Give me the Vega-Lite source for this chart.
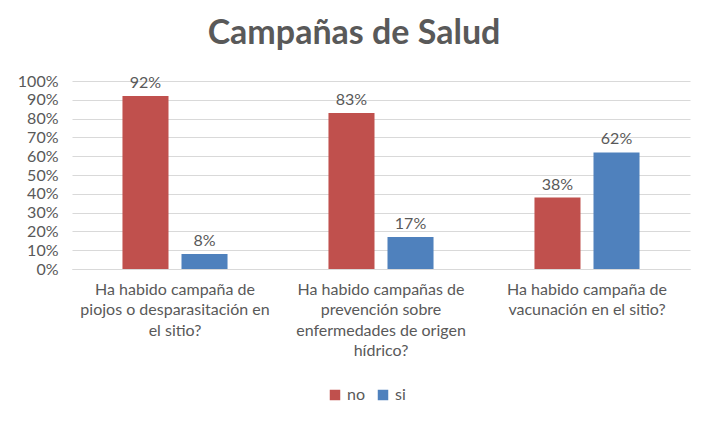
{
  "$schema": "https://vega.github.io/schema/vega-lite/v6.json",
  "width": 618,
  "height": 188,
  "autosize": {"type": "none"},
  "padding": {"left": 72, "top": 81, "right": 20, "bottom": 157},
  "background": "white",
  "title": {
    "text": "Campañas de Salud",
    "font": "Lato",
    "fontSize": 34,
    "fontWeight": "bold",
    "color": "#595959",
    "anchor": "middle",
    "offset": 22,
    "dx": -27
  },
  "config": {
    "view": {"stroke": null},
    "font": "Lato"
  },
  "data": {
    "values": [
      {"pregunta": "Ha habido campaña de|piojos o desparasitación en|el sitio?", "orden": 1, "respuesta": "no", "valor": 0.92},
      {"pregunta": "Ha habido campaña de|piojos o desparasitación en|el sitio?", "orden": 1, "respuesta": "si", "valor": 0.08},
      {"pregunta": "Ha habido campañas de|prevención sobre|enfermedades de origen|hídrico?", "orden": 2, "respuesta": "no", "valor": 0.83},
      {"pregunta": "Ha habido campañas de|prevención sobre|enfermedades de origen|hídrico?", "orden": 2, "respuesta": "si", "valor": 0.17},
      {"pregunta": "Ha habido campaña de|vacunación en el sitio?", "orden": 3, "respuesta": "no", "valor": 0.38},
      {"pregunta": "Ha habido campaña de|vacunación en el sitio?", "orden": 3, "respuesta": "si", "valor": 0.62}
    ]
  },
  "encoding": {
    "x": {
      "field": "pregunta",
      "type": "nominal",
      "sort": {"field": "orden"},
      "scale": {"paddingInner": 0.49, "paddingOuter": 0.245},
      "axis": {
        "title": null,
        "labelAngle": 0,
        "labelExpr": "split(datum.label, '|')",
        "labelFontSize": 16,
        "labelFontWeight": "normal",
        "labelColor": "#595959",
        "labelLineHeight": 20.5,
        "labelPadding": 12,
        "labelBaseline": "top",
        "labelLimit": 300,
        "ticks": false,
        "domainColor": "#D9D9D9",
        "domainWidth": 1
      }
    },
    "xOffset": {
      "field": "respuesta",
      "type": "nominal",
      "scale": {"paddingInner": 0.22}
    },
    "y": {
      "field": "valor",
      "type": "quantitative",
      "scale": {"domain": [0, 1]},
      "axis": {
        "title": null,
        "format": ".0%",
        "values": [0, 0.1, 0.2, 0.3, 0.4, 0.5, 0.6, 0.7, 0.8, 0.9, 1],
        "labelOverlap": false,
        "labelFontSize": 16,
        "labelFontWeight": "normal",
        "labelColor": "#595959",
        "labelPadding": 14,
        "domain": false,
        "ticks": false,
        "gridColor": "#D9D9D9",
        "gridWidth": 1
      }
    }
  },
  "layer": [
    {
      "mark": {"type": "bar"},
      "encoding": {
        "color": {
          "field": "respuesta",
          "type": "nominal",
          "scale": {"domain": ["no", "si"], "range": ["#C0504D", "#4F81BD"]},
          "legend": {
            "title": null,
            "orient": "none",
            "direction": "horizontal",
            "legendX": 255,
            "legendY": 306,
            "symbolType": "square",
            "symbolSize": 110,
            "symbolStrokeWidth": 0,
            "labelFontSize": 16,
            "labelColor": "#595959",
            "columnPadding": 10,
            "labelOffset": 4
          }
        }
      }
    },
    {
      "mark": {"type": "text", "dy": -13, "fontSize": 16, "color": "#595959"},
      "encoding": {
        "text": {"field": "valor", "type": "quantitative", "format": ".0%"}
      }
    }
  ]
}
